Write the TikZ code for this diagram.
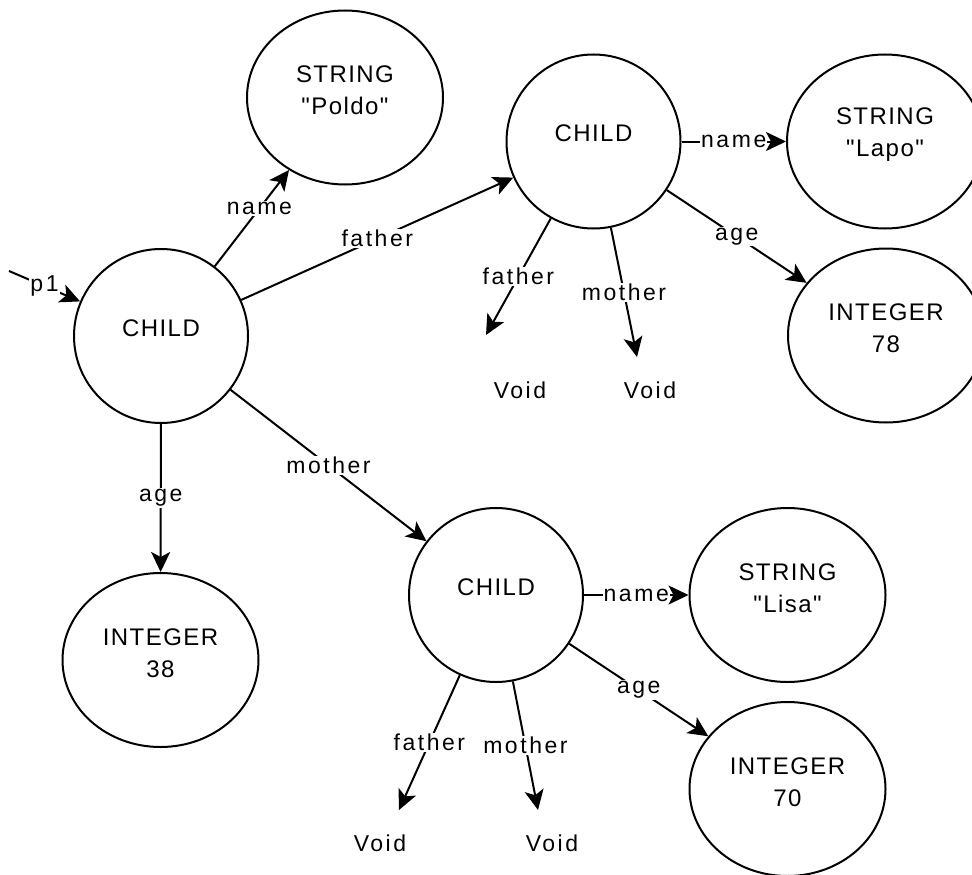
\documentclass[tikz,border=0pt]{standalone}
\usepackage{fontspec}
\setmainfont{Liberation Sans}
\newfontfamily\objfont[LetterSpace=6]{Liberation Sans}
\newfontfamily\edgefont[LetterSpace=11]{Liberation Sans}
\usetikzlibrary{arrows.meta,shapes.geometric}

\begin{document}
\begin{tikzpicture}[x=1pt,y=-1pt,
  obj/.style={circle, draw, line width=2pt, minimum size=174pt, inner sep=0pt},
  val/.style={ellipse, draw, line width=2pt, minimum width=196pt, minimum height=174pt, inner sep=0pt},
  txt/.style={align=center, inner sep=0pt, font=\objfont\fontsize{24}{32}\selectfont},
  lbl/.style={fill=white, inner sep=1pt, font=\edgefont\fontsize{23}{28}\selectfont},
  voidtxt/.style={inner sep=0pt, font=\edgefont\fontsize{23}{28}\selectfont},
  link/.style={line width=2pt, -{Stealth[length=20pt, width=19pt, inset=5pt]}},
]
\clip (0,0) rectangle (972,875);

% objects
\node[obj] (c1) at (161,336) {};
\node[txt] (c1t) at ([yshift=8pt]c1.center) {CHILD};
\node[val] (poldo) at (345,97.5) {};
\node[txt] (poldot) at ([yshift=7pt]poldo.center) {STRING\\"Poldo"};
\node[val] (i38) at (160.5,660) {};
\node[txt] (i38t) at ([yshift=7pt]i38.center) {INTEGER\\38};

\node[obj] (c2) at (593.5,141.5) {};
\node[txt] (c2t) at ([yshift=8pt]c2.center) {CHILD};
\node[val] (lapo) at (885,141.5) {};
\node[txt] (lapot) at ([yshift=7pt]lapo.center) {STRING\\"Lapo"};
\node[val] (i78) at (886,335.5) {};
\node[txt] (i78t) at ([yshift=7pt]i78.center) {INTEGER\\78};

\node[obj] (c3) at (496,595) {};
\node[txt] (c3t) at ([yshift=8pt]c3.center) {CHILD};
\node[val] (lisa) at (787.5,595) {};
\node[txt] (lisat) at ([yshift=7pt]lisa.center) {STRING\\"Lisa"};
\node[val] (i70) at (787.5,789) {};
\node[txt] (i70t) at ([yshift=7pt]i70.center) {INTEGER\\70};

% void targets
\node[voidtxt] (v1) at (520,390) {Void};
\node[voidtxt] (v2) at (650,390) {Void};
\node[voidtxt] (v3) at (380,843) {Void};
\node[voidtxt] (v4) at (552,843) {Void};
\coordinate (v1tip) at (486,335);
\coordinate (v2tip) at (637,357);
\coordinate (v3tip) at (399,810);
\coordinate (v4tip) at (538,810);
\coordinate (p1start) at (9,271);

% references
\draw[link] (p1start) -- node[lbl] {p1} (c1);
\draw[link] (c1) -- node[lbl, pos=0.6] {name} (poldo);
\draw[link] (c1) -- node[lbl] {father} (c2);
\draw[link] (c1) -- node[lbl] {mother} (c3);
\draw[link] (c1) -- node[lbl] {age} (i38);

\draw[link] (c2) -- node[lbl] {name} (lapo);
\draw[link] (c2) -- node[lbl] {age} (i78);
\draw[link] (c2) -- node[lbl] {father} (v1tip);
\draw[link] (c2) -- node[lbl] {mother} (v2tip);

\draw[link] (c3) -- node[lbl] {name} (lisa);
\draw[link] (c3) -- node[lbl] {age} (i70);
\draw[link] (c3) -- node[lbl] {father} (v3tip);
\draw[link] (c3) -- node[lbl] {mother} (v4tip);
\end{tikzpicture}
\end{document}
